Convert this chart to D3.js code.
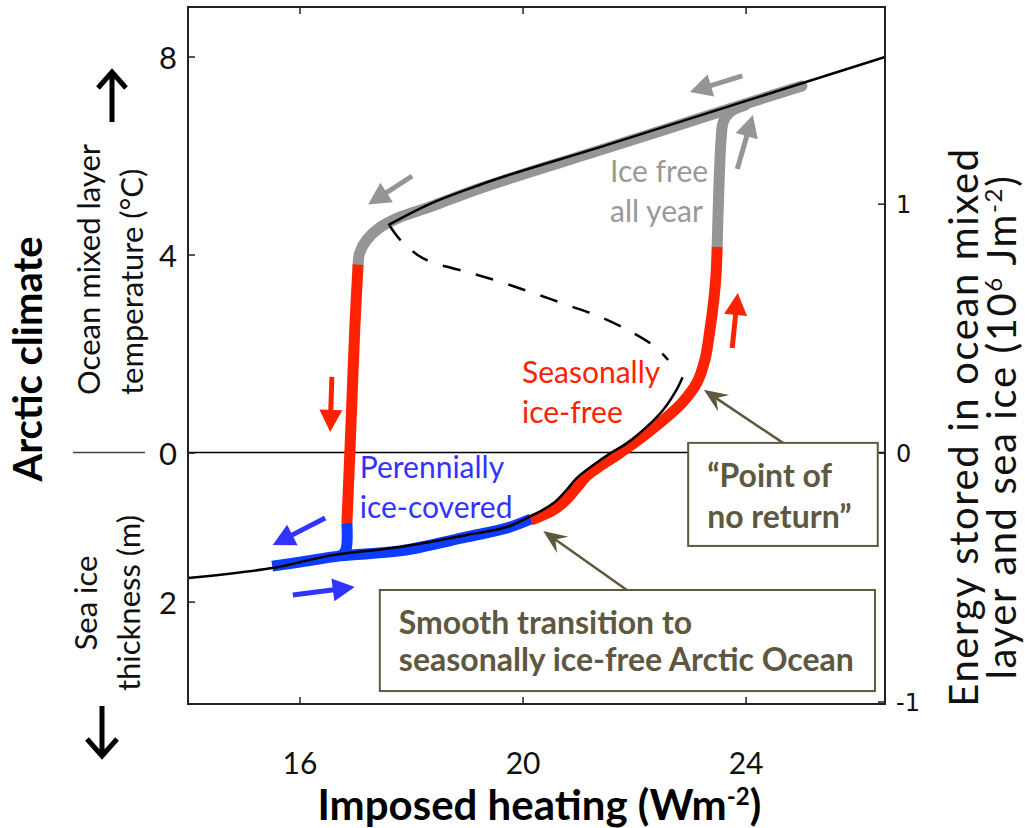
<!DOCTYPE html>
<html>
<meta charset="utf-8">
<script src="https://cdn.jsdelivr.net/npm/d3@7"></script>
<style>
body{ margin:0; background:white; }
svg text{ font-family: Lato, "Open Sans", sans-serif; }
.tick line{ stroke:#222; stroke-width:1.5; }
</style>
<body>
<div id="chart"></div>
<script>
// x: imposed heating (W m-2), y: energy stored E (right axis units)
var xTicks = [16, 20, 24];
var energyTicks = [-1, 0, 1];
var tempTicks = [8, 4, 0];      // ocean mixed layer temperature (C)
var iceTicks = [2];             // sea ice thickness (m)
var ePerDegree = 0.1989;        // E per degC
var ePerMetreIce = 0.2994;      // E per m of ice

// black model curve, three branches
var upperBranch = [[17.59,0.914],[17.80,0.939],[18.34,0.999],[19.24,1.076],[21.39,1.227],[26.50,1.589]];
var unstableBranch = [[17.62,0.910],[17.80,0.856],[18.11,0.795],[18.39,0.763],[19.00,0.726],[19.60,0.686],[20.19,0.641],[20.80,0.593],[21.39,0.545],[21.98,0.481],[22.38,0.424],[22.61,0.372]];
var lowerBranch = [[14.00,-0.504],[15.51,-0.464],[16.01,-0.440],[16.60,-0.412],[17.80,-0.379],[19.00,-0.331],[19.72,-0.299],[20.13,-0.258],[20.55,-0.204],[20.79,-0.150],[20.97,-0.103],[21.27,-0.050],[21.57,-0.003],[21.87,0.037],[22.23,0.104],[22.52,0.171],[22.76,0.252],[22.87,0.303]];

// hysteresis loop, by regime
var iceFreeUpper = [[25.01,1.473],[23.18,1.343],[21.39,1.215],[19.24,1.062],[18.34,0.987],[17.75,0.941],[17.44,0.904],[17.21,0.856],[17.08,0.803],[17.05,0.755]];
var iceFreeRight = [[23.49,0.826],[23.52,1.057],[23.56,1.256],[23.60,1.328],[23.72,1.368],[23.99,1.395]];
var perennialLower = [[15.51,-0.456],[16.01,-0.440],[16.73,-0.415],[17.80,-0.395],[19.00,-0.339],[19.72,-0.303],[20.15,-0.267]];
var perennialDrop = [[16.85,-0.283],[16.83,-0.391],[16.74,-0.415]];
var seasonalLeft = [[17.05,0.755],[16.99,0.493],[16.94,0.211],[16.89,-0.070],[16.85,-0.283]];
var seasonalRight = [[20.15,-0.271],[20.55,-0.231],[20.80,-0.186],[20.98,-0.138],[21.17,-0.090],[21.39,-0.054],[21.69,-0.010],[21.98,0.035],[22.29,0.088],[22.59,0.143],[22.88,0.205],[23.13,0.282],[23.27,0.372],[23.36,0.493],[23.43,0.613],[23.47,0.715],[23.49,0.826]];

var loopSegments = [
  {regime:"icefree", pts:iceFreeUpper},
  {regime:"icefree", pts:iceFreeRight},
  {regime:"perennial", pts:perennialLower},
  {regime:"perennial", pts:perennialDrop},
  {regime:"seasonal", pts:seasonalLeft},
  {regime:"seasonal", pts:seasonalRight}
];

// direction arrows (tail -> tip)
var stateArrows = [
  {regime:"icefree", from:[23.94,1.513], to:[23.00,1.449]},
  {regime:"icefree", from:[23.85,1.139], to:[24.13,1.356]},
  {regime:"icefree", from:[18.02,1.111], to:[17.23,0.997]},
  {regime:"seasonal", from:[16.58,0.304], to:[16.55,0.083]},
  {regime:"seasonal", from:[23.76,0.420], to:[23.86,0.641]},
  {regime:"perennial", from:[16.46,-0.263], to:[15.52,-0.371]},
  {regime:"perennial", from:[15.88,-0.572], to:[16.99,-0.540]}
];

var regimeLabels = [
  {regime:"perennial", lines:["Perennially","ice-covered"], at:[17.08,-0.102]},
  {regime:"seasonal", lines:["Seasonally","ice-free"], at:[19.99,0.279]},
  {regime:"icefree", lines:["Ice free","all year"], at:[21.57,1.087]}
];

var callouts = [
  {lines:["\u201cPoint of","no return\u201d"], box:[[22.97,0.039],[26.37,-0.375]], from:[24.67,0.039], to:[23.25,0.252], lineGap:41},
  {lines:["Smooth transition to","seasonally ice-free Arctic Ocean"], box:[[17.44,-0.552],[26.32,-0.958]], from:[21.87,-0.552], to:[20.37,-0.315], lineGap:37}
];

var regimeColor = d3.scaleOrdinal().domain(["perennial","seasonal","icefree"]).range(["#0d3bff","#ff2200","#959595"]);
var regimeText = d3.scaleOrdinal().domain(["perennial","seasonal","icefree"]).range(["#3333ff","#ff2200","#999999"]);
var arrowColor = d3.scaleOrdinal().domain(["perennial","seasonal","icefree"]).range(["#3333ff","#ff2200","#959595"]);
var olive = "#5e5840";

var width = 1025, height = 828;
var plot = {left:188, right:885, top:7, bottom:704};

var x = d3.scaleLinear().domain([14, 26.5]).range([plot.left, plot.right]);
var y = d3.scaleLinear().domain([-1.01, 1.79]).range([plot.bottom, plot.top]);

var svg = d3.select("#chart").append("svg").attr("width", width).attr("height", height);

var line = d3.line()
  .x(function(d){ return x(d[0]); })
  .y(function(d){ return y(d[1]); })
  .curve(d3.curveCatmullRom.alpha(0.5));
var lineMono = d3.line()
  .x(function(d){ return x(d[0]); })
  .y(function(d){ return y(d[1]); })
  .curve(d3.curveMonotoneX);

// zero line
svg.append("line")
  .attr("x1", x(14)).attr("x2", x(26.5))
  .attr("y1", y(0)).attr("y2", y(0))
  .attr("stroke", "#000").attr("stroke-width", 1.5);

// axes (ticks inward)
var gB = svg.append("g").attr("transform", "translate(0," + plot.bottom + ")")
  .call(d3.axisBottom(x).tickValues(xTicks).tickSize(-7));
var gT = svg.append("g").attr("transform", "translate(0," + plot.top + ")")
  .call(d3.axisTop(x).tickValues(xTicks).tickSize(-7).tickFormat(""));

var leftVals = tempTicks.map(function(t){ return t * ePerDegree; })
  .concat(iceTicks.map(function(h){ return -h * ePerMetreIce; }));
var leftLabels = tempTicks.concat(iceTicks);
var gL = svg.append("g").attr("transform", "translate(" + plot.left + ",0)")
  .call(d3.axisLeft(y).tickValues(leftVals).tickSize(-7).tickPadding(11)
    .tickFormat(function(d, i){ return String(leftLabels[i]); }));
var gR = svg.append("g").attr("transform", "translate(" + plot.right + ",0)")
  .call(d3.axisRight(y).tickValues(energyTicks).tickSize(-7).tickPadding(11)
    .tickFormat(function(d){ return String(d); }));

[gB, gT, gL, gR].forEach(function(g){ g.select(".domain").remove(); });
gB.selectAll("text").attr("font-size", 30).attr("fill", "#111").attr("dy", 0).attr("y", 70);
gL.selectAll("text").attr("font-size", 31).attr("fill", "#111").attr("dy", "0.38em");
gR.selectAll("text").attr("font-size", 24).attr("fill", "#111").attr("dy", "0.36em")
  .style("font-family", "'DejaVu Sans', Verdana, sans-serif");

// hysteresis bands
svg.append("g").selectAll("path")
  .data(loopSegments.slice().sort(function(a, b){
    var order = {icefree:0, perennial:1, seasonal:2};
    return order[a.regime] - order[b.regime];
  }))
  .enter().append("path")
  .attr("d", function(d){ return line(d.pts); })
  .attr("fill", "none")
  .attr("stroke", function(d){ return regimeColor(d.regime); })
  .attr("stroke-width", 11)
  .attr("stroke-linecap", function(d){ return d.regime == "icefree" ? "round" : "butt"; })
  .attr("stroke-linejoin", "round");

// model curve
svg.append("path").attr("d", line(lowerBranch))
  .attr("fill", "none").attr("stroke", "#000").attr("stroke-width", 2.5);
svg.append("path").attr("d", lineMono(upperBranch))
  .attr("fill", "none").attr("stroke", "#000").attr("stroke-width", 2.5);
svg.append("path").attr("d", line(unstableBranch))
  .attr("fill", "none").attr("stroke", "#000").attr("stroke-width", 2.5)
  .attr("stroke-dasharray", "18,16");

// filled arrows along the loop
function blockArrow(g, x1, y1, x2, y2, color, headLen, headHalf, shaft){
  var a = Math.atan2(y2 - y1, x2 - x1);
  var ux = Math.cos(a), uy = Math.sin(a);
  var bx = x2 - headLen * ux, by = y2 - headLen * uy;
  g.append("line").attr("x1", x1).attr("y1", y1).attr("x2", bx + ux).attr("y2", by + uy)
    .attr("stroke", color).attr("stroke-width", shaft);
  g.append("path")
    .attr("d", "M" + x2 + "," + y2 +
      "L" + (bx - uy * headHalf) + "," + (by + ux * headHalf) +
      "L" + (bx + uy * headHalf) + "," + (by - ux * headHalf) + "Z")
    .attr("fill", color);
}
var arrowG = svg.append("g");
stateArrows.forEach(function(d){
  blockArrow(arrowG, x(d.from[0]), y(d.from[1]), x(d.to[0]), y(d.to[1]),
    arrowColor(d.regime), 22, 11.5, 5);
});

// regime labels
regimeLabels.forEach(function(d){
  var t = svg.append("text")
    .attr("x", x(d.at[0])).attr("y", y(d.at[1]))
    .attr("font-size", 30).attr("fill", regimeText(d.regime));
  d.lines.forEach(function(s, i){
    t.append("tspan").attr("x", x(d.at[0])).attr("dy", i == 0 ? 0 : 40).text(s);
  });
});

// callout boxes with pointer arrows
function stealthArrow(g, x1, y1, x2, y2, color){
  var a = Math.atan2(y2 - y1, x2 - x1);
  var ux = Math.cos(a), uy = Math.sin(a);
  var L = 24, hw = 10;
  var nx = x2 - 0.62 * L * ux, ny = y2 - 0.62 * L * uy;
  var bx = x2 - L * ux, by = y2 - L * uy;
  g.append("line").attr("x1", x1).attr("y1", y1).attr("x2", nx).attr("y2", ny)
    .attr("stroke", color).attr("stroke-width", 2.5);
  g.append("path")
    .attr("d", "M" + x2 + "," + y2 +
      "L" + (bx - uy * hw) + "," + (by + ux * hw) +
      "L" + nx + "," + ny +
      "L" + (bx + uy * hw) + "," + (by - ux * hw) + "Z")
    .attr("fill", color);
}
callouts.forEach(function(d){
  var bx0 = x(d.box[0][0]), by0 = y(d.box[0][1]);
  var bx1 = x(d.box[1][0]), by1 = y(d.box[1][1]);
  stealthArrow(svg, x(d.from[0]), y(d.from[1]), x(d.to[0]), y(d.to[1]), olive);
  svg.append("rect")
    .attr("x", bx0).attr("y", by0).attr("width", bx1 - bx0).attr("height", by1 - by0)
    .attr("fill", "white").attr("stroke", olive).attr("stroke-width", 2);
  var t = svg.append("text").attr("x", bx0 + 19).attr("y", by0 + 44)
    .attr("font-size", 32).attr("font-weight", "bold").attr("fill", olive);
  d.lines.forEach(function(s, i){
    t.append("tspan").attr("x", bx0 + 19).attr("dy", i == 0 ? 0 : d.lineGap).text(s);
  });
});

// frame
svg.append("rect")
  .attr("x", plot.left).attr("y", plot.top)
  .attr("width", plot.right - plot.left).attr("height", plot.bottom - plot.top)
  .attr("fill", "none").attr("stroke", "#222").attr("stroke-width", 2);

// axis titles
svg.append("text")
  .attr("x", x(20.3)).attr("y", 820)
  .attr("text-anchor", "middle").attr("font-size", 42).attr("font-weight", "bold")
  .html('Imposed heating (Wm<tspan dy="-15" font-size="24">-2</tspan><tspan dy="15">)</tspan>');

svg.append("text")
  .attr("transform", "translate(42,359) rotate(-90)")
  .attr("text-anchor", "middle").attr("font-size", 40).attr("font-weight", "bold")
  .text("Arctic climate");

function rotLabel(px, py, anchor, str, size){
  return svg.append("text")
    .attr("transform", "translate(" + px + "," + py + ") rotate(-90)")
    .attr("text-anchor", anchor).attr("font-size", size || 31).attr("fill", "#111")
    .text(str);
}
rotLabel(100, 395, "start", "Ocean mixed layer");
rotLabel(143, 395, "start", "temperature (\u00b0C)");
rotLabel(97, 603, "middle", "Sea ice");
rotLabel(140, 603, "middle", "thickness (m)");

rotLabel(978, 427, "middle", "Energy stored in ocean mixed", 40)
  .attr("letter-spacing", 1.6);
rotLabel(1016, 427, "middle", "", 40)
  .attr("letter-spacing", 1.6)
  .html('layer and sea ice (10<tspan dy="-14" font-size="24">6</tspan><tspan dy="14"> Jm</tspan><tspan dy="-14" font-size="24">-2</tspan><tspan dy="14">)</tspan>');

// separator and direction arrows beside the left titles
svg.append("line").attr("x1", 73).attr("x2", 145).attr("y1", y(0)).attr("y2", y(0))
  .attr("stroke", "#444").attr("stroke-width", 1.5);
svg.append("path").attr("d", "M112,122V73M98,88L112,72L126,88")
  .attr("fill", "none").attr("stroke", "#000").attr("stroke-width", 5);
svg.append("path").attr("d", "M102,706V755M87,739L102,756L117,739")
  .attr("fill", "none").attr("stroke", "#000").attr("stroke-width", 5);
</script>
</body>
</html>
